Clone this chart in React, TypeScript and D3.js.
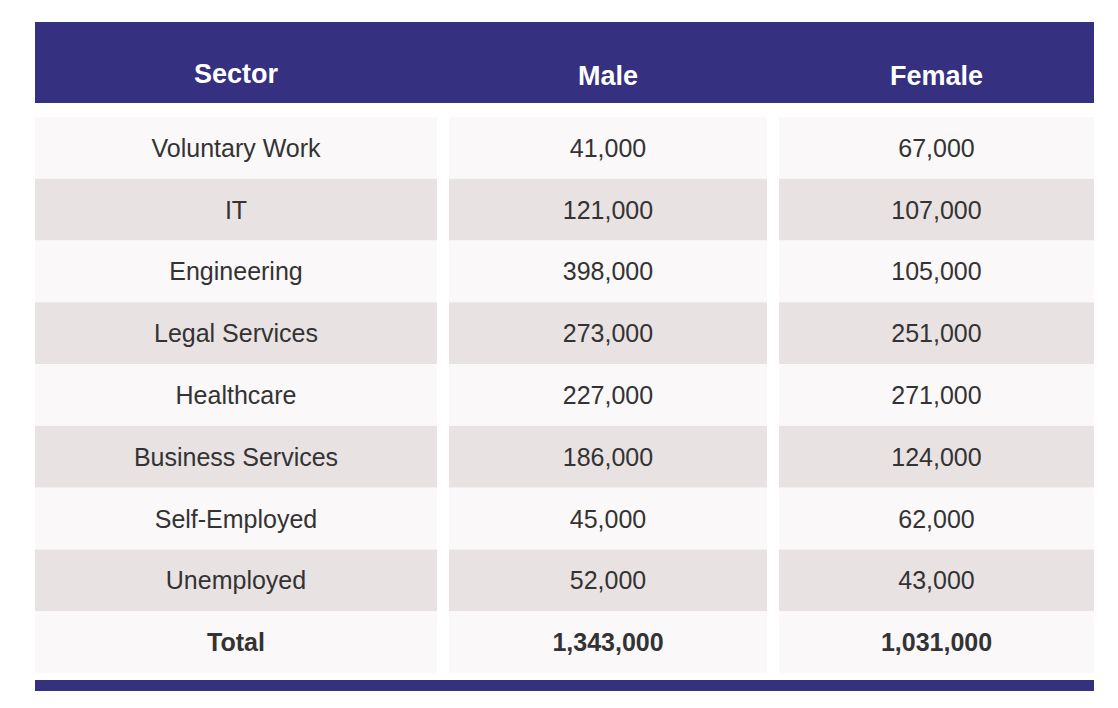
import React from "react";
import * as d3 from "d3";

const sectors = ["Voluntary Work", "IT", "Engineering", "Legal Services", "Healthcare", "Business Services", "Self-Employed", "Unemployed", "Total"];
const male = [41000, 121000, 398000, 273000, 227000, 186000, 45000, 52000, 1343000];
const female = [67000, 107000, 105000, 251000, 271000, 124000, 62000, 43000, 1031000];
const headers = ["Sector", "Male", "Female"];

const W = 1118;
const H = 708;
const cols = [
  { x0: 35, x1: 437 },
  { x0: 449, x1: 767 },
  { x0: 779, x1: 1094 },
];

export default function App() {
  const y = d3.scaleBand<number>().domain(d3.range(sectors.length)).range([117, 673]).paddingInner(0);
  const fmt = d3.format(",");
  const rows = sectors.map((s, i) => [s, fmt(male[i]), fmt(female[i])]);
  const font = "'Liberation Sans', Arial, sans-serif";

  return (
    <svg width={W} height={H} style={{ position: "absolute", left: 0, top: 0, background: "#fff" }} fontFamily={font}>
      <rect x={35} y={22} width={1059} height={81} fill="#35307f" />
      {headers.map((h, j) => (
        <text key={h} x={(cols[j].x0 + cols[j].x1) / 2} y={j === 0 ? 83 : 85} textAnchor="middle" fill="#fff" fontWeight="bold" fontSize={27}>
          {h}
        </text>
      ))}
      {rows.map((r, i) => (
        <g key={i}>
          {cols.map((c, j) => (
            <rect key={j} x={c.x0} y={y(i)!} width={c.x1 - c.x0} height={y.bandwidth()} fill={i % 2 === 0 ? "#faf8f9" : "#e8e2e3"} />
          ))}
          {r.map((t, j) => (
            <text key={j} x={(cols[j].x0 + cols[j].x1) / 2} y={y(i)! + y.bandwidth() / 2 + 9} textAnchor="middle" fill="#333" fontSize={25} fontWeight={i === rows.length - 1 ? "bold" : "normal"}>
              {t}
            </text>
          ))}
        </g>
      ))}
      <rect x={35} y={680} width={1059} height={11} fill="#35307f" />
    </svg>
  );
}
